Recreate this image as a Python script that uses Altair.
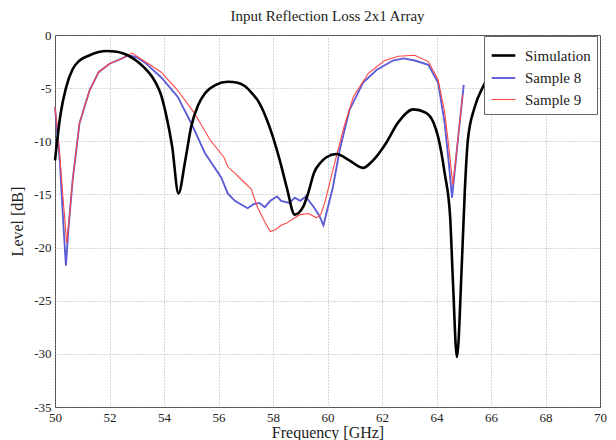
import altair as alt
import pandas as pd

# Simulation (black)
sim_f = [50.0, 50.2, 50.4, 50.65, 50.9, 51.27, 51.6, 51.9, 52.2, 52.46, 52.8, 53.08, 53.4, 53.7, 53.9, 54.06, 54.3, 54.53,
         54.78, 55.0, 55.25, 55.5, 55.9, 56.34, 56.7, 56.96, 57.2, 57.5, 57.75, 58.0, 58.25, 58.5, 58.8, 59.1, 59.3, 59.5,
         59.75, 59.96, 60.33, 60.8, 61.3, 61.67, 62.14, 62.6, 63.15, 63.6, 63.9, 64.06, 64.3, 64.5, 64.6, 64.75, 64.93,
         65.04, 65.15, 65.4, 65.7, 65.9]
sim_db = [-11.8, -7.5, -5.0, -3.2, -2.4, -1.9, -1.6, -1.5, -1.55, -1.7, -2.1, -2.6, -3.4, -4.5, -5.7, -7.3, -10.5, -14.9,
          -11.8, -8.6, -6.6, -5.5, -4.7, -4.4, -4.5, -4.8, -5.4, -6.4, -7.8, -9.6, -11.8, -14.3, -16.9, -16.2, -14.8, -13.0,
          -12.0, -11.5, -11.2, -11.8, -12.5, -11.8, -10.2, -8.2, -7.0, -7.3, -8.3, -9.6, -13.0, -17.1, -23.0, -30.3, -21.5,
          -14.6, -9.9, -6.8, -4.9, -4.0]

# Sample 8 (blue)
s8_f = [50.0, 50.18, 50.3, 50.4, 50.5, 50.65, 50.9, 51.27, 51.6, 52.0, 52.46, 52.7, 53.0, 53.3, 53.9, 54.5, 55.0, 55.5,
        56.1, 56.34, 56.6, 56.8, 57.07, 57.3, 57.5, 57.7, 57.9, 58.15, 58.3, 58.6, 58.8, 59.0, 59.2, 59.5, 59.7, 59.85,
        60.2, 60.45, 60.8, 61.3, 61.8, 62.4, 62.8, 63.2, 63.7, 64.06, 64.3, 64.45, 64.57, 64.8, 65.0]
s8_db = [-6.8, -12.0, -17.5, -21.7, -18.0, -13.6, -8.3, -5.2, -3.5, -2.7, -2.2, -1.9, -2.1, -2.6, -4.0, -5.8, -8.3, -11.1,
         -13.4, -14.9, -15.6, -15.9, -16.3, -15.9, -15.8, -16.2, -15.6, -15.2, -15.6, -15.8, -15.3, -15.6, -15.2, -16.2,
         -17.0, -17.9, -14.3, -10.8, -7.1, -4.5, -3.3, -2.4, -2.2, -2.4, -2.8, -4.5, -8.3, -12.0, -15.3, -9.5, -4.7]

# Sample 9 (red)
s9_f = [50.0, 50.15, 50.3, 50.43, 50.55, 50.65, 50.9, 51.27, 51.6, 52.0, 52.46, 52.83, 53.3, 53.9, 54.5, 55.1, 55.7,
        56.2, 56.34, 56.6, 56.96, 57.2, 57.43, 57.7, 57.9, 58.1, 58.3, 58.5, 58.8, 59.0, 59.3, 59.6, 59.75, 59.9, 60.2,
        60.6, 60.95, 61.5, 62.1, 62.6, 63.2, 63.7, 64.06, 64.3, 64.45, 64.6, 64.8, 64.96]
s9_db = [-6.8, -10.5, -15.5, -19.6, -16.5, -13.6, -8.3, -5.2, -3.5, -2.7, -2.2, -1.7, -2.5, -3.5, -5.2, -7.3, -9.9,
         -11.5, -12.4, -13.0, -13.9, -14.5, -16.2, -17.6, -18.5, -18.3, -17.9, -17.7, -17.2, -16.9, -16.8, -17.2, -16.9,
         -15.8, -12.7, -8.7, -5.8, -3.6, -2.4, -2.0, -1.9, -2.5, -4.2, -7.3, -10.5, -14.1, -9.5, -5.6]

series_names = ["Simulation", "Sample 8", "Sample 9"]
series_colors = ["#000000", "#5b5bd6", "#ff4646"]
series_widths = [2.6, 1.1, 1.1]

x_ticks = list(range(50, 71, 2))
y_ticks = list(range(-35, 1, 5))

rows = []
for name, fs, ds in [("Simulation", sim_f, sim_db), ("Sample 8", s8_f, s8_db), ("Sample 9", s9_f, s9_db)]:
    for f, d in zip(fs, ds):
        rows.append({"f": f, "db": d, "series": name})
df = pd.DataFrame(rows)

FONT = "Liberation Serif"

x_enc = alt.X("f:Q", scale=alt.Scale(domain=[50, 70], nice=False),
              axis=alt.Axis(values=x_ticks, title="Frequency [GHz]", labelExpr="''+datum.value",
                            labelFlush=False, titleY=30, titleBaseline="alphabetic"))
y_enc = alt.Y("db:Q", scale=alt.Scale(domain=[-35, 0], nice=False),
              axis=alt.Axis(values=y_ticks, title="Level [dB]", labelExpr="''+datum.value",
                            labelFlush=False,
                            titleX=-46, titleY=186, titleAngle=-90, titleAlign="center", titleBaseline="top"))
color_enc = alt.Color("series:N", scale=alt.Scale(domain=series_names, range=series_colors),
                      legend=alt.Legend(title=None, orient="none", legendX=429, legendY=1))
width_enc = alt.StrokeWidth("series:N", scale=alt.Scale(domain=series_names, range=series_widths),
                            legend=alt.Legend(title=None, orient="none", legendX=429, legendY=1))

base = alt.Chart(df)
samples = base.transform_filter("datum.series != 'Simulation'").mark_line(interpolate="linear").encode(
    x=x_enc, y=y_enc, color=color_enc, strokeWidth=width_enc, detail="series:N")
sim = base.transform_filter("datum.series == 'Simulation'").mark_line(interpolate="monotone").encode(
    x=x_enc, y=y_enc, color=color_enc, strokeWidth=width_enc)

chart = alt.layer(samples, sim).properties(
    width=545, height=372,
    title=alt.TitleParams("Input Reflection Loss 2x1 Array", font=FONT, fontSize=15, fontWeight="normal",
                          offset=5, color="#222"),
    autosize="none",
    padding={"left": 47, "top": 27, "right": 8, "bottom": 33},
).configure_view(stroke="#444", strokeWidth=1).configure_axis(
    grid=True, gridColor="#999", gridDash=[1, 2], gridWidth=0.8,
    domain=False, ticks=False,
    labelFont=FONT, labelFontSize=13, labelColor="#222", labelPadding=4,
    titleFont=FONT, titleFontSize=16, titleFontWeight="normal", titleColor="#222",
).configure_legend(
    fillColor="white", strokeColor="#666", padding=6, labelFont=FONT, labelFontSize=15,
    labelColor="#222", symbolType="stroke", symbolSize=560, rowPadding=1, labelOffset=8,
)

chart.save("out.html", embed_options={"renderer": "svg", "actions": False})
